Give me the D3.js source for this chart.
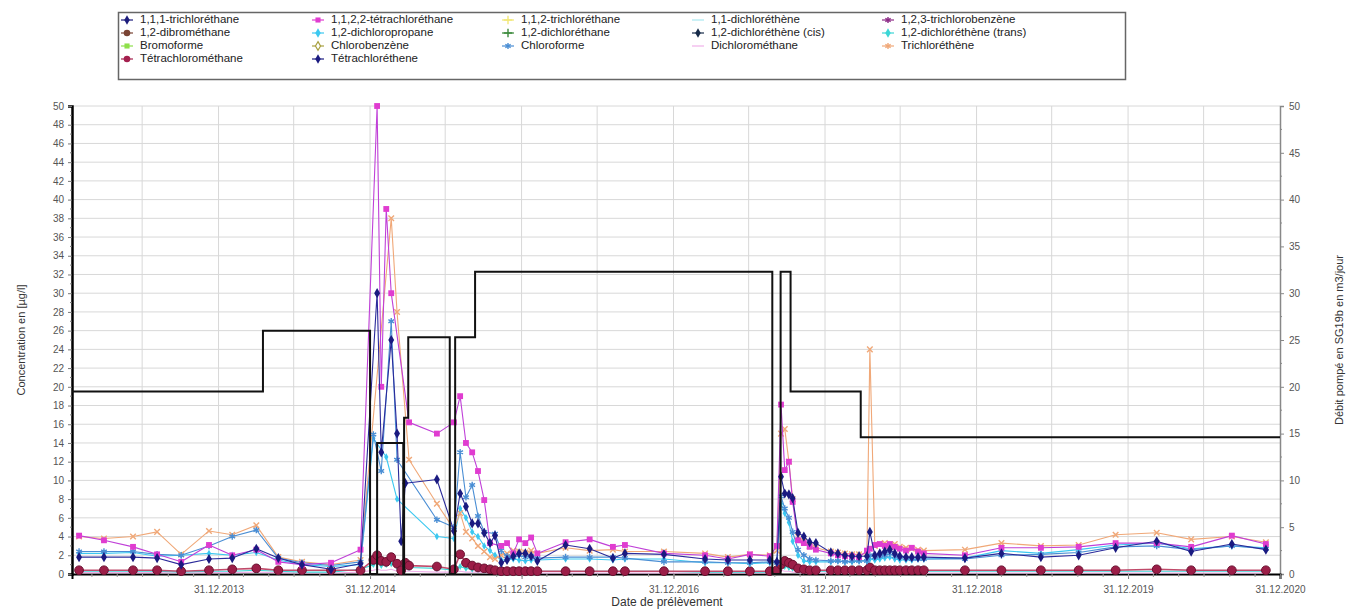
<!DOCTYPE html>
<html lang="fr">
<head>
<meta charset="utf-8">
<script src="https://cdn.jsdelivr.net/npm/d3@7"></script>
<style>
  html, body { margin: 0; padding: 0; background: #fff; }
  svg { display: block; font-family: "Liberation Sans", Arial, sans-serif; }
</style>
</head>
<body>
<svg id="chart" width="1359" height="609"></svg>
<script>
// ------------------------------------------------------------
// DONNÉES
// ------------------------------------------------------------
const n = null;

// dates de prélèvement (communes à toutes les séries)
const sampleDates = [
  "2013-01-29","2013-03-30","2013-06-08","2013-08-05","2013-10-02","2013-12-08",
  "2014-02-02","2014-04-01","2014-05-24","2014-07-20","2014-09-28","2014-12-08",
  "2015-01-08","2015-01-17","2015-01-27","2015-02-08","2015-02-20","2015-03-06",
  "2015-03-16","2015-03-26","2015-04-04","2015-06-10","2015-07-21","2015-08-05",
  "2015-08-19","2015-09-03","2015-09-17","2015-10-02","2015-10-16","2015-10-28",
  "2015-11-12","2015-11-26","2015-12-11","2015-12-25","2016-01-09","2016-01-23",
  "2016-02-07","2016-04-15","2016-06-12","2016-08-07","2016-09-05","2016-12-08",
  "2017-03-17","2017-05-11","2017-07-03","2017-08-20","2017-09-06","2017-09-16",
  "2017-09-25","2017-10-05","2017-10-14","2017-10-27","2017-11-10","2017-11-24",
  "2017-12-09","2018-01-14","2018-01-31","2018-02-17","2018-03-06","2018-03-23",
  "2018-04-11","2018-04-18","2018-04-30","2018-05-12","2018-05-24","2018-06-05",
  "2018-06-17","2018-06-29","2018-07-14","2018-07-28","2018-08-12","2018-08-26",
  "2018-12-03","2019-03-01","2019-06-04","2019-09-03","2019-12-01","2020-03-09",
  "2020-05-31","2020-09-06","2020-11-27"
];

const tetrachloroethane1122 = [
  4.1,3.6,2.9,2.1,1.3,3.1, 2.0,2.6,1.3,1.0,1.2,2.6,
  n,50,20,39,30,n, n,n,16.2,15.0,16.2,19.0,
  14.0,13.0,11.0,7.9,3.3,n, 3.0,3.3,2.2,3.7,3.3,3.9,
  2.2,3.4,3.7,2.9,3.1,2.2, 2.0,1.6,2.1,1.9,3.0,18.1,
  11.1,12.0,7.7,3.6,3.3,2.9, 2.6,2.2,2.0,1.9,1.9,1.8,
  2.5,2.7,3.1,3.2,3.0,3.2, 2.9,2.7,2.5,2.8,2.4,2.2,
  2.0,2.8,2.8,2.9,3.3,3.3, 2.9,4.1,3.2
];

const tetrachloroethene = [
  1.8,1.8,1.8,1.7,1.0,1.6, 1.7,2.7,1.7,1.0,0.5,1.1,
  n,30.0,13.0,n,25.0,15.0, 3.5,9.7,n,10.1,4.6,8.6,
  7.2,5.4,5.4,4.4,3.3,4.1, 1.2,1.5,1.9,2.2,2.2,1.9,
  1.4,3.1,2.7,1.7,2.2,2.1, 1.6,1.5,1.5,1.5,1.3,10.4,
  8.6,8.5,8.1,4.4,4.0,3.4, 3.3,2.3,2.2,2.0,1.9,1.9,
  1.9,4.5,2.0,2.2,2.4,2.6, 2.2,1.9,1.8,1.8,1.8,1.8,
  1.7,2.2,1.8,2.0,2.8,3.5, 2.4,3.2,2.6
];

const chloroforme = [
  2.4,2.4,2.4,2.1,2.0,3.0, 4.0,4.7,1.7,1.2,0.9,1.3,
  14.9,n,11.0,n,27.0,12.2, n,n,n,5.8,5.0,13.0,
  8.2,9.5,6.2,4.5,n,4.3, 2.5,1.9,1.8,2.0,1.8,1.9,
  1.7,1.8,1.8,1.8,1.7,1.3, 1.3,1.2,1.2,1.3,1.2,8.3,
  7.0,6.0,4.5,2.6,2.0,1.6, 1.5,1.4,1.4,1.3,1.4,1.4,
  1.4,2.0,1.8,1.9,2.0,2.2, 1.9,1.8,1.7,1.6,1.6,1.6,
  1.6,2.0,2.1,2.3,2.9,3.0, 2.6,3.0,2.7
];

const dichloropropane12 = [
  2.2,2.2,2.3,1.9,2.0,2.2, 2.0,2.3,1.5,1.0,0.8,1.0,
  14.5,n,n,12.5,n,8.0, n,n,n,4.0,3.8,7.0,
  6.0,4.5,4.0,3.0,2.5,2.0, 1.5,1.5,1.6,1.5,1.4,1.5,
  1.5,1.6,1.6,1.5,1.6,1.6, 1.2,1.2,1.1,1.2,1.2,7.5,
  6.5,5.5,3.5,2.0,1.4,1.3, 1.3,1.3,1.4,1.3,1.3,1.4,
  1.4,1.6,1.5,1.6,1.7,1.8, 1.6,1.5,1.5,1.5,1.6,1.6,
  1.7,2.5,2.2,2.6,3.1,3.3, 2.7,3.0,2.8
];

const trichloroethene = [
  4.0,3.8,4.0,4.5,2.1,4.6, 4.2,5.2,1.8,1.3,1.0,1.5,
  n,n,n,n,38.0,28.0, n,n,12.2,7.5,4.8,6.5,
  4.5,3.8,3.0,2.4,1.8,1.6, 2.0,2.2,2.5,2.4,2.3,2.5,
  2.2,2.8,2.5,2.6,2.4,2.4, 2.2,1.8,2.1,2.0,2.5,15.0,
  15.5,12.0,8.0,4.0,3.5,3.0, 2.8,2.4,2.3,2.2,2.1,2.1,
  2.2,24.0,3.0,3.2,3.3,3.0, 3.2,2.9,2.8,2.7,2.6,2.5,
  2.6,3.3,3.0,3.1,4.2,4.4, 3.7,4.0,3.4
];

const tetrachloromethane = [
  0.4,0.4,0.4,0.4,0.3,0.4, 0.5,0.6,0.4,0.4,0.4,0.4,
  1.5,2.0,1.4,1.3,1.8,1.1, 0.4,1.2,0.9,0.8,0.5,2.1,
  1.2,0.9,0.7,0.6,0.5,0.4, 0.3,0.3,0.3,0.3,0.3,0.3,
  0.3,0.3,0.3,0.3,0.3,0.3, 0.3,0.3,0.3,0.3,0.4,1.0,
  1.4,1.2,1.0,0.6,0.5,0.4, 0.4,0.4,0.4,0.4,0.4,0.4,
  0.4,0.7,0.4,0.4,0.4,0.4, 0.4,0.4,0.4,0.4,0.4,0.4,
  0.4,0.4,0.4,0.4,0.4,0.5, 0.4,0.4,0.4
];

const dichloroetheneTrans = [
  0.3,0.3,0.3,0.3,0.2,0.3, 0.3,0.4,0.3,0.2,0.2,0.5,
  1.0,1.2,0.9,1.0,1.1,0.8, 0.6,0.9,0.7,0.6,0.4,0.8,
  0.6,0.5,0.5,0.4,0.4,0.3, 0.3,0.3,0.3,0.3,0.3,0.3,
  0.3,0.3,0.3,0.3,0.3,0.3, 0.2,0.2,0.2,0.2,0.3,0.9,
  0.8,0.7,0.6,0.4,0.3,0.3, 0.3,0.3,0.3,0.3,0.3,0.3,
  0.3,0.5,0.3,0.3,0.3,0.3, 0.3,0.3,0.3,0.3,0.3,0.3,
  0.3,0.3,0.3,0.3,0.3,0.3, 0.3,0.3,0.3
];

const dichloromethane = [
  0.15,0.15,0.15,0.15,0.1,0.15, 0.15,0.2,0.15,0.1,0.1,0.2,
  0.4,0.5,0.4,0.4,0.5,0.3, 0.2,0.3,0.3,0.2,0.2,0.3,
  0.2,0.2,0.2,0.15,0.15,0.1, 0.1,0.1,0.1,0.1,0.1,0.1,
  0.1,0.1,0.1,0.1,0.1,0.1, 0.1,0.1,0.1,0.1,0.1,0.4,
  0.3,0.3,0.2,0.15,0.1,0.1, 0.1,0.1,0.1,0.1,0.1,0.1,
  0.1,0.2,0.1,0.1,0.1,0.1, 0.1,0.1,0.1,0.1,0.1,0.1,
  0.1,0.1,0.1,0.1,0.1,0.1, 0.1,0.1,0.1
];

// débit pompé (axe de droite), en escalier
const pumpDates = [
  "2013-01-12","2014-04-17","2014-12-31","2015-01-17","2015-03-21","2015-03-23",
  "2015-04-02","2015-07-11","2015-07-24","2015-09-10","2017-08-26","2017-09-15",
  "2017-10-09","2018-03-27","2020-12-31"
];
const pumpValues = [19.5, 26.0, 0, 14.0, 0, 16.7, 25.3, 0, 25.3, 32.3, 0, 32.3, 19.5, 14.6, 14.6];

// graduations
const leftTicks = [0,2,4,6,8,10,12,14,16,18,20,22,24,26,28,30,32,34,36,38,40,42,44,46,48,50];
const rightTicks = [0, 5, 10, 15, 20, 25, 30, 35, 40, 45, 50];
const xTickDates = ["2013-12-31","2014-12-31","2015-12-31","2016-12-31","2017-12-31","2018-12-31","2019-12-31","2020-12-31"];

// légende (ordre d'origine)
const legendNames = [
  "1,1,1-trichloréthane","1,1,2,2-tétrachloréthane","1,1,2-trichloréthane","1,1-dichloréthène","1,2,3-trichlorobenzène",
  "1,2-dibrométhane","1,2-dichloropropane","1,2-dichloréthane","1,2-dichloréthène (cis)","1,2-dichloréthène (trans)",
  "Bromoforme","Chlorobenzène","Chloroforme","Dichlorométhane","Trichloréthène",
  "Tétrachlorométhane","Tétrachloréthene"
];
const legendColors = [
  "#1c1c7c","#e03cd0","#f2e878","#a8e8f0","#8c2a86",
  "#7a4434","#3cc8f0","#3c8a3c","#162a48","#3cd6d6",
  "#8ee04a","#a8a040","#4a8ed4","#f0b0ea","#f0a878",
  "#a4204e","#1a1a80"
];
const legendSymbols = [
  "diamond","square","plus","line","star",
  "circle","diamond","plus","diamond","diamond",
  "square","hollow","star","line","star",
  "circle","diamond"
];

// ------------------------------------------------------------
// MISE EN PAGE
// ------------------------------------------------------------
const svg = d3.select("#chart");
const plot = { left: 72, right: 1280, top: 106, bottom: 574 };
const parse = d3.timeParse("%Y-%m-%d");

const x = d3.scaleTime()
  .domain([parse("2013-01-12"), parse("2020-12-31")])
  .range([plot.left, plot.right]);
const yL = d3.scaleLinear().domain([0, 50]).range([plot.bottom, plot.top]);
const yR = d3.scaleLinear().domain([0, 50]).range([plot.bottom, plot.top]);

// grille horizontale
svg.append("g").selectAll("line")
  .data(leftTicks.filter(d => d > 0))
  .join("line")
  .attr("x1", plot.left).attr("x2", plot.right)
  .attr("y1", d => yL(d)).attr("y2", d => yL(d))
  .attr("stroke", "#d8d8d8").attr("stroke-width", 1);

// grille verticale (fin d'année + mi-année)
const vGrid = d3.timeMonth.every(6).range(parse("2013-06-30"), parse("2021-01-02"))
  .map(d => d3.timeDay.offset(d, -1))
  .filter(d => x(d) > plot.left + 2 && x(d) < plot.right - 2);
svg.append("g").selectAll("line")
  .data(vGrid)
  .join("line")
  .attr("x1", d => x(d)).attr("x2", d => x(d))
  .attr("y1", plot.top).attr("y2", plot.bottom)
  .attr("stroke", "#d8d8d8").attr("stroke-width", 1);

// axe gauche
const leftAxis = d3.axisLeft(yL).tickValues(leftTicks).tickSize(4).tickPadding(4);
const gL = svg.append("g").attr("transform", `translate(${plot.left},0)`).call(leftAxis);
gL.select(".domain").attr("stroke", "#000").attr("stroke-width", 2.5);
gL.selectAll(".tick line").attr("stroke", "#777");
gL.selectAll("text").attr("fill", "#555").attr("font-size", 10);
svg.append("g").selectAll("line")
  .data(leftTicks.slice(1).map(d => d - 1))
  .join("line")
  .attr("x1", plot.left - 2).attr("x2", plot.left)
  .attr("y1", d => yL(d)).attr("y2", d => yL(d))
  .attr("stroke", "#777");

// axe droit
const rightAxis = d3.axisRight(yR).tickValues(rightTicks).tickSize(4).tickPadding(5);
const gR = svg.append("g").attr("transform", `translate(${plot.right},0)`).call(rightAxis);
gR.select(".domain").attr("stroke", "#888").attr("stroke-width", 1.5);
gR.selectAll(".tick line").attr("stroke", "#888");
gR.selectAll("text").attr("fill", "#555").attr("font-size", 10);
svg.append("g").selectAll("line")
  .data(rightTicks.slice(1).map(d => d - 2.5))
  .join("line")
  .attr("x1", plot.right).attr("x2", plot.right + 2)
  .attr("y1", d => yR(d)).attr("y2", d => yR(d))
  .attr("stroke", "#888");

// axe du bas
const bottomAxis = d3.axisBottom(x)
  .tickValues(xTickDates.map(parse))
  .tickFormat(d3.timeFormat("%d.%m.%Y"))
  .tickSize(5).tickPadding(7);
const gB = svg.append("g").attr("transform", `translate(0,${plot.bottom})`).call(bottomAxis);
gB.select(".domain").attr("stroke", "#000").attr("stroke-width", 2);
gB.selectAll(".tick line").attr("stroke", "#777");
gB.selectAll("text").attr("fill", "#555").attr("font-size", 10);
svg.append("g").selectAll("line")
  .data(d3.timeMonth.every(2).range(parse("2013-03-01"), parse("2020-12-01")))
  .join("line")
  .attr("x1", d => x(d)).attr("x2", d => x(d))
  .attr("y1", plot.bottom).attr("y2", plot.bottom + 3)
  .attr("stroke", "#999");

// titres d'axes
svg.append("text")
  .attr("transform", `translate(22,${(plot.top + plot.bottom) / 2}) rotate(-90)`)
  .attr("text-anchor", "middle").attr("dominant-baseline", "middle")
  .attr("font-size", 11).attr("fill", "#333")
  .text("Concentration en [µg/l]");
svg.append("text")
  .attr("transform", `translate(1340,${(plot.top + plot.bottom) / 2}) rotate(-90)`)
  .attr("text-anchor", "middle").attr("dominant-baseline", "middle")
  .attr("font-size", 11).attr("fill", "#333")
  .text("Débit pompé en SG19b en m3/jour");
svg.append("text")
  .attr("x", 667).attr("y", 603)
  .attr("text-anchor", "middle").attr("dominant-baseline", "middle")
  .attr("font-size", 12).attr("fill", "#333")
  .text("Date de prélèvement");

// ------------------------------------------------------------
// SÉRIES
// ------------------------------------------------------------
const series = [
  { name: "Dichlorométhane", values: dichloromethane, line: "#f0b0ea", sym: "none" },
  { name: "1,2-dichloréthène (trans)", values: dichloroetheneTrans, line: "#3cd6d6", sym: "diamond", size: 14 },
  { name: "Tétrachlorométhane", values: tetrachloromethane, line: "#c04a6a", fill: "#9c1e48", stroke: "#6a1030", sym: "circle", size: 60, lw: 1.6 },
  { name: "1,2-dichloropropane", values: dichloropropane12, line: "#3cc8f0", sym: "diamond", size: 16 },
  { name: "Trichloréthène", values: trichloroethene, line: "#f0a878", sym: "x", size: 22 },
  { name: "Chloroforme", values: chloroforme, line: "#4a8ed4", sym: "star", size: 30 },
  { name: "1,1,2,2-tétrachloréthane", values: tetrachloroethane1122, line: "#c040d8", fill: "#e03cd0", sym: "square", size: 34 },
  { name: "Tétrachloréthene", values: tetrachloroethene, line: "#2a2a9a", fill: "#1a1a80", sym: "diamond", size: 30 }
];

const dates = sampleDates.map(parse);
const symbolType = {
  diamond: d3.symbolDiamond,
  square: d3.symbolSquare,
  circle: d3.symbolCircle,
  star: d3.symbolAsterisk || d3.symbolStar,
  x: d3.symbolX || d3.symbolCross,
  plus: d3.symbolPlus || d3.symbolCross
};
const strokeSymbols = ["star", "x", "plus"];

const line = d3.line().x(d => x(d.date)).y(d => yL(d.value));

series.forEach(s => {
  const pts = dates.map((date, i) => ({ date, value: s.values[i] }))
    .filter(p => p.value != null);
  const g = svg.append("g");
  g.append("path")
    .attr("d", line(pts))
    .attr("fill", "none")
    .attr("stroke", s.line)
    .attr("stroke-width", s.lw || 1.1)
    .attr("stroke-linejoin", "round");
  if (s.sym === "none") return;
  const isStroke = strokeSymbols.includes(s.sym);
  g.selectAll("path.m")
    .data(pts)
    .join("path")
    .attr("class", "m")
    .attr("transform", d => `translate(${x(d.date)},${yL(d.value)})`)
    .attr("d", d3.symbol().type(symbolType[s.sym]).size(s.size))
    .attr("fill", isStroke ? "none" : (s.fill || s.line))
    .attr("stroke", isStroke ? s.line : (s.stroke || "none"))
    .attr("stroke-width", isStroke ? 1.4 : 1);
});

// débit pompé
const pumpLine = d3.line()
  .x(d => x(d.date)).y(d => yR(d.value))
  .curve(d3.curveStepAfter);
svg.append("path")
  .attr("d", pumpLine(pumpDates.map((d, i) => ({ date: parse(d), value: pumpValues[i] }))))
  .attr("fill", "none")
  .attr("stroke", "#111")
  .attr("stroke-width", 2);

// ------------------------------------------------------------
// LÉGENDE
// ------------------------------------------------------------
const legend = svg.append("g");
legend.append("rect")
  .attr("x", 118.5).attr("y", 12.5).attr("width", 1007).attr("height", 67)
  .attr("fill", "#fff").attr("stroke", "#666").attr("stroke-width", 1.5);

const colX = [127, 318, 508, 698, 888];
const rowY = [20, 33, 46, 59];
legendNames.forEach((name, i) => {
  const cx = colX[i % 5];
  const cy = rowY[Math.floor(i / 5)];
  const color = legendColors[i];
  const sym = legendSymbols[i];
  const item = legend.append("g").attr("transform", `translate(${cx},${cy})`);
  item.append("line").attr("x1", -6).attr("x2", 6).attr("y1", 0).attr("y2", 0)
    .attr("stroke", color).attr("stroke-width", 1.2);
  if (sym === "hollow") {
    item.append("path").attr("d", d3.symbol().type(d3.symbolDiamond).size(22))
      .attr("fill", "#fff").attr("stroke", color).attr("stroke-width", 1.2);
  } else if (sym !== "line") {
    const isStroke = strokeSymbols.includes(sym);
    item.append("path")
      .attr("d", d3.symbol().type(symbolType[sym]).size(sym === "circle" ? 34 : 26))
      .attr("fill", isStroke ? "none" : color)
      .attr("stroke", isStroke ? color : "none")
      .attr("stroke-width", 1.4);
  }
  item.append("text")
    .attr("x", 13).attr("y", 0)
    .attr("dominant-baseline", "middle")
    .attr("font-size", 11.5).attr("fill", "#222")
    .text(name);
});
</script>
</body>
</html>
